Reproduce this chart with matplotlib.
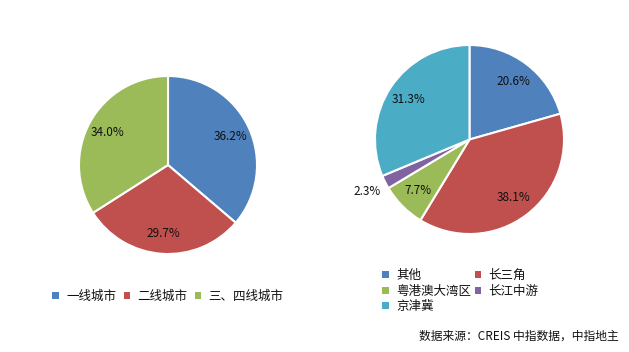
import matplotlib
matplotlib.use('Agg')
import matplotlib.pyplot as plt
from matplotlib.patches import Patch

plt.rcParams['font.family'] = ['Noto Sans CJK SC', 'DejaVu Sans']

# --- data ---
left_labels = ['一线城市', '二线城市', '三、四线城市']
left_values = [36.2, 29.7, 34.0]

right_labels = ['其他', '长三角', '粤港澳大湾区', '长江中游', '京津冀']
right_values = [20.6, 38.1, 7.7, 2.3, 31.3]

left_colors = ['#4F81BD', '#C0504D', '#9BBB59']
right_colors = ['#4F81BD', '#C0504D', '#9BBB59', '#8064A2', '#4BACC6']

source_text = '数据来源：CREIS 中指数据，中指地主'

W, H = 629, 352
fig = plt.figure(figsize=(W / 100, H / 100), dpi=100)
fig.patch.set_facecolor('white')


def px_axes(cx, cy, r):
    # axes box in pixel coords around a pie of radius r
    return fig.add_axes([(cx - r) / W, (H - cy - r) / H, 2 * r / W, 2 * r / H])


def draw_pie(ax, values, colors, small_out=None):
    wedges, texts, autotexts = ax.pie(
        values, colors=colors, startangle=90, counterclock=False,
        autopct='%.1f%%', pctdistance=0.77,
        wedgeprops=dict(edgecolor='white', linewidth=1.5),
        textprops=dict(fontsize=8.5, color='#111111'))
    ax.set_xlim(-1, 1)
    ax.set_ylim(-1, 1)
    ax.set_aspect('equal')
    if small_out is not None:
        # push the thin slice's label outside the pie
        t = autotexts[small_out]
        x, y = t.get_position()
        t.set_position((x / 0.77 * 1.22, y / 0.77 * 1.22))
    return wedges


ax1 = px_axes(168, 165, 89)
draw_pie(ax1, left_values, left_colors)

ax2 = px_axes(469.5, 139.5, 94.5)
draw_pie(ax2, right_values, right_colors, small_out=3)

leg_kw = dict(frameon=False, fontsize=9, handlelength=0.5, handleheight=0.5,
              handletextpad=0.6, borderpad=0, labelcolor='#111111')

h1 = [Patch(facecolor=c, edgecolor='none') for c in left_colors]
fig.legend(h1, left_labels, loc='center', ncol=3,
           bbox_to_anchor=(168 / W, 1 - 296 / H), columnspacing=0.6, **leg_kw)

# matplotlib fills legend columns first, reorder to get row-major order
order = [0, 2, 4, 1, 3]
h2 = [Patch(facecolor=right_colors[i], edgecolor='none') for i in order]
fig.legend(h2, [right_labels[i] for i in order],
           loc='upper left', ncol=2, bbox_to_anchor=(376 / W, 1 - 263 / H),
           columnspacing=0.3, labelspacing=0.2, **leg_kw)

fig.text(619 / W, 1 - 336 / H, source_text, ha='right', va='center',
         fontsize=8.5, color='#111111')

fig.savefig('out.png', dpi=100, facecolor='white')
